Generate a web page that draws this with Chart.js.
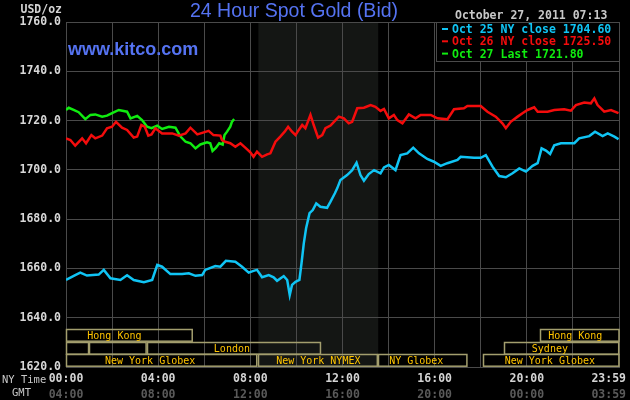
<!DOCTYPE html>
<html lang="en">
<head>
<meta charset="UTF-8" />
<title>24 Hour Spot Gold (Bid)</title>
<script src="https://cdn.jsdelivr.net/npm/chart.js@4/dist/chart.umd.min.js"></script>
<style>
  html, body { margin: 0; padding: 0; background: #000; }
</style>
</head>
<body>
<canvas id="myChart" width="630" height="400"></canvas>
<script>
// hours since 00:00 NY time, price in USD/oz
const hours25 = [0, 0.40, 0.62, 0.91, 1.42, 1.64, 1.93, 2.36, 2.65, 2.94, 3.38, 3.74, 3.96, 4.17, 4.53, 5.04, 5.33, 5.62, 5.91,
  6.04, 6.48, 6.70, 6.94, 7.35, 7.64, 7.93, 8.14, 8.29, 8.51, 8.80, 9.01, 9.16, 9.45, 9.60, 9.71, 9.81, 9.96, 10.13, 10.22,
  10.32, 10.42, 10.57, 10.71, 10.86, 11.04, 11.33, 11.48, 11.67, 11.77, 11.91, 12.20, 12.42, 12.61, 12.78, 12.93, 13.14,
  13.37, 13.65, 13.80, 14.01, 14.30, 14.52, 14.81, 15.07, 15.32, 15.68, 15.97, 16.26, 16.55, 16.99, 17.13, 17.71, 18.00,
  18.22, 18.51, 18.80, 19.09, 19.38, 19.67, 19.96, 20.25, 20.47, 20.64, 20.83, 21.01, 21.19, 21.48, 22.06, 22.27, 22.71,
  22.96, 23.29, 23.51, 23.80, 23.98];
const gold25 = [1655.3, 1657.3, 1658.3, 1657.1, 1657.5, 1659.4, 1656.0, 1655.3, 1657.2, 1655.3, 1654.4, 1655.3, 1661.4, 1660.7,
  1657.7, 1657.7, 1658.0, 1657.0, 1657.3, 1659.4, 1661.0, 1660.7, 1663.1, 1662.7, 1660.7, 1658.3, 1659.0, 1659.4, 1656.4,
  1657.3, 1656.4, 1655.0, 1656.9, 1655.3, 1649.2, 1653.3, 1654.6, 1655.3, 1662.0, 1670.2, 1676.3, 1682.4, 1683.7, 1686.4,
  1685.0, 1684.6, 1687.1, 1690.5, 1692.5, 1695.9, 1697.9, 1699.9, 1702.9, 1697.9, 1695.6, 1698.3, 1699.9, 1698.6, 1701.0,
  1702.0, 1699.9, 1706.0, 1706.7, 1709.0, 1706.7, 1704.4, 1703.3, 1701.6, 1702.7, 1704.0, 1705.3, 1704.9, 1704.9, 1706.0,
  1701.3, 1697.5, 1697.0, 1698.6, 1700.6, 1699.3, 1701.6, 1702.7, 1708.7, 1707.8, 1706.4, 1710.0, 1710.8, 1710.8, 1712.8,
  1713.7, 1715.5, 1713.7, 1714.8, 1713.5, 1712.4];

const hours26 = [0, 0.19, 0.40, 0.70, 0.87, 1.10, 1.27, 1.57, 1.78, 2.00, 2.17, 2.43, 2.65, 2.94, 3.09, 3.27, 3.42, 3.57, 3.71,
  3.88, 4.17, 4.61, 4.90, 5.19, 5.40, 5.70, 6.19, 6.40, 6.70, 6.77, 6.91, 7.13, 7.35, 7.57, 7.78, 8.00, 8.14, 8.29, 8.51,
  8.73, 8.87, 9.09, 9.30, 9.49, 9.64, 9.81, 9.96, 10.10, 10.25, 10.39, 10.61, 10.75, 10.94, 11.12, 11.26, 11.48, 11.70,
  11.84, 12.06, 12.27, 12.42, 12.64, 12.93, 13.22, 13.43, 13.65, 13.80, 14.01, 14.23, 14.38, 14.60, 14.88, 15.17, 15.39,
  15.83, 16.12, 16.55, 16.84, 17.27, 17.42, 18.00, 18.29, 18.65, 18.94, 19.09, 19.30, 19.60, 19.81, 20.03, 20.32, 20.47,
  20.90, 21.19, 21.62, 21.91, 22.13, 22.49, 22.78, 22.93, 23.07, 23.36, 23.65, 23.98];
const gold26 = [1712.8, 1712.1, 1709.8, 1712.8, 1710.8, 1714.1, 1712.8, 1713.9, 1716.9, 1717.5, 1719.5, 1717.1, 1716.2, 1713.1,
  1713.5, 1718.2, 1717.5, 1713.9, 1714.4, 1716.9, 1714.8, 1714.8, 1713.9, 1714.8, 1717.1, 1714.4, 1715.8, 1714.1, 1713.9,
  1712.1, 1711.4, 1710.8, 1709.4, 1710.8, 1709.0, 1707.1, 1705.3, 1707.4, 1705.3, 1706.3, 1706.7, 1711.4, 1713.5, 1715.5,
  1717.5, 1715.5, 1714.1, 1716.2, 1718.2, 1716.9, 1722.3, 1718.2, 1713.1, 1714.1, 1716.9, 1718.0, 1720.2, 1721.6, 1720.9,
  1718.9, 1719.5, 1725.0, 1725.2, 1726.3, 1725.6, 1723.9, 1724.7, 1720.9, 1722.3, 1720.2, 1718.9, 1722.5, 1720.9, 1722.3,
  1722.3, 1720.9, 1720.5, 1724.6, 1725.0, 1725.9, 1725.9, 1723.6, 1721.6, 1718.9, 1716.9, 1719.5, 1721.6, 1723.0, 1724.3,
  1725.4, 1723.6, 1723.6, 1724.3, 1724.6, 1724.0, 1726.3, 1727.3, 1727.0, 1729.0, 1726.3, 1723.6, 1724.3, 1723.0];

const hours27 = [0, 0.12, 0.33, 0.55, 0.84, 1.06, 1.27, 1.57, 1.78, 2.00, 2.29, 2.65, 2.80, 3.09, 3.30, 3.52, 3.71, 3.96, 4.17,
  4.47, 4.75, 4.97, 5.19, 5.40, 5.62, 5.83, 6.12, 6.26, 6.36, 6.51, 6.65, 6.80, 6.88, 6.99, 7.13, 7.20, 7.30];
const gold27 = [1724.3, 1725.2, 1724.3, 1723.4, 1720.6, 1722.3, 1722.5, 1721.6, 1722.0, 1723.0, 1724.3, 1723.6, 1720.9, 1721.9,
  1720.2, 1717.5, 1716.9, 1717.9, 1716.6, 1717.5, 1717.1, 1713.5, 1711.4, 1710.8, 1708.7, 1710.3, 1711.2, 1710.8, 1707.7,
  1709.0, 1710.8, 1710.3, 1714.1, 1715.5, 1717.5, 1719.5, 1720.6];

const seriesNames = ["Oct 25 NY close", "Oct 26 NY close", "Oct 27 Last"];
const seriesPrices = [1704.60, 1725.50, 1721.80];
const seriesColors = ["#10c4f4", "#f40c0c", "#10ec10"];

const tickHours = [0, 4, 8, 12, 16, 20, 24];
const nyLabels = ["00:00", "04:00", "08:00", "12:00", "16:00", "20:00", "23:59"];
const gmtLabels = ["04:00", "08:00", "12:00", "16:00", "20:00", "00:00", "03:59"];

// trading sessions (row 0 = top), hours NY time; mid = where the name sits
const markets = [
  { name: "Hong Kong", row: 0, from: 0, to: 5.5, mid: 2.1 },
  { name: "Hong Kong", row: 0, from: 20.55, to: 24, mid: 22.1 },
  { name: "", row: 1, from: 0, to: 1.0 },
  { name: "", row: 1, from: 1.0, to: 3.5 },
  { name: "London", row: 1, from: 3.5, to: 11.05, mid: 7.2 },
  { name: "Sydney", row: 1, from: 19.0, to: 24, mid: 21.0 },
  { name: "New York Globex", row: 2, from: 0, to: 8.3, mid: 3.65 },
  { name: "New York NYMEX", row: 2, from: 8.35, to: 13.55, mid: 10.95 },
  { name: "NY Globex", row: 2, from: 13.55, to: 17.43, mid: 15.2 },
  { name: "New York Globex", row: 2, from: 18.08, to: 24, mid: 21.0 }
];
const nymexBand = [8.35, 13.55];

const mono = '"DejaVu Sans Mono", monospace';

function pts(hs, vs) {
  return hs.map((h, i) => ({ x: h, y: vs[i] }));
}

const kitco = {
  id: "kitco",
  beforeDraw(chart) {
    const { ctx, chartArea: a } = chart;
    const x = chart.scales.x;
    ctx.save();
    ctx.fillStyle = "#000";
    ctx.fillRect(0, 0, chart.width, chart.height);
    const x0 = x.getPixelForValue(nymexBand[0]);
    const x1 = x.getPixelForValue(nymexBand[1]);
    ctx.fillStyle = "#141614";
    ctx.fillRect(x0, a.top, x1 - x0, a.bottom - a.top);
    ctx.restore();
  },
  beforeDatasetsDraw(chart) {
    const { ctx, chartArea: a } = chart;
    const x = chart.scales.x;
    const rowH = 12.7;
    ctx.save();
    ctx.lineWidth = 1.5;
    ctx.strokeStyle = "#a39e6e";
    ctx.font = "10px " + mono;
    ctx.fillStyle = "#ffc400";
    ctx.textAlign = "center";
    ctx.textBaseline = "middle";
    markets.forEach(m => {
      const top = a.bottom - (3 - m.row) * rowH;
      const l = x.getPixelForValue(Math.max(m.from, 0));
      const r = x.getPixelForValue(Math.min(m.to, 24));
      ctx.strokeRect(Math.round(l) + 0.5, Math.round(top) + 0.5, r - l - 1, rowH - 1);
      if (m.name) ctx.fillText(m.name, x.getPixelForValue(m.mid), top + rowH / 2 + 1);
    });
    ctx.restore();
  },
  afterDraw(chart) {
    const { ctx, chartArea: a } = chart;
    const x = chart.scales.x;
    ctx.save();

    // legend box
    const lx = a.right - 183, ly = a.top, lh = 39;
    ctx.fillStyle = "#000";
    ctx.fillRect(lx, ly, a.right - lx, lh);
    ctx.strokeStyle = "#4a4a4a";
    ctx.lineWidth = 1;
    ctx.strokeRect(Math.round(lx) + 0.5, ly + 0.5, a.right - lx, lh);
    ctx.font = "bold 11.5px " + mono;
    ctx.textAlign = "left";
    ctx.textBaseline = "alphabetic";
    seriesNames.forEach((n, i) => {
      const by = ly + 11 + i * 12.3;
      ctx.fillStyle = seriesColors[i];
      ctx.fillRect(lx + 6, by - 5, 6, 2);
      ctx.fillText(n + " " + seriesPrices[i].toFixed(2), lx + 16, by);
    });

    // titles
    ctx.fillStyle = "#5573f2";
    ctx.textAlign = "center";
    ctx.font = '19.5px "Liberation Sans", Arial, sans-serif';
    ctx.fillText("24 Hour Spot Gold (Bid)", 294, 17);
    ctx.textAlign = "left";
    ctx.font = 'bold 18px "Liberation Sans", Arial, sans-serif';
    ctx.fillText("www.kitco.com", 68, 55);

    ctx.fillStyle = "#c8c8c8";
    ctx.font = "bold 11.5px " + mono;
    ctx.fillText("October 27, 2011 07:13", 455, 19);
    ctx.textAlign = "right";
    ctx.fillStyle = "#d4d4d4";
    ctx.fillText("USD/oz", 62, 12.5);

    // time rows
    ctx.font = "10.5px " + mono;
    ctx.fillStyle = "#c8c8c8";
    ctx.textAlign = "left";
    ctx.fillText("NY Time", 2, 383);
    ctx.fillText("GMT", 12, 396);

    ctx.font = "bold 11.5px " + mono;
    ctx.textAlign = "center";
    tickHours.forEach((h, i) => {
      let px = x.getPixelForValue(h);
      const w = ctx.measureText(nyLabels[i]).width;
      px = Math.min(px, chart.width - w / 2 - 4);
      ctx.fillStyle = "#d4d4d4";
      ctx.fillText(nyLabels[i], px, 382);
      ctx.fillStyle = "#5a5a5a";
      ctx.fillText(gmtLabels[i], px, 398);
    });
    ctx.restore();
  }
};

const ctx = document.getElementById("myChart");
new Chart(ctx, {
  type: "line",
  data: {
    datasets: [
      { label: seriesNames[0], data: pts(hours25, gold25), borderColor: seriesColors[0] },
      { label: seriesNames[1], data: pts(hours26, gold26), borderColor: seriesColors[1] },
      { label: seriesNames[2], data: pts(hours27, gold27), borderColor: seriesColors[2] }
    ]
  },
  options: {
    responsive: false,
    animation: false,
    layout: { padding: { top: 22, right: 11, bottom: 33, left: 0 } },
    elements: {
      line: { borderWidth: 2.5, tension: 0 },
      point: { radius: 0 }
    },
    plugins: {
      legend: { display: false },
      tooltip: { enabled: false }
    },
    scales: {
      x: {
        type: "linear",
        min: 0,
        max: 24,
        ticks: { display: false, stepSize: 2 },
        grid: { color: "#4a4a4a", drawTicks: false },
        border: { color: "#4a4a4a" },
        afterFit(scale) { scale.height = 0; }
      },
      y: {
        min: 1620,
        max: 1760,
        ticks: {
          stepSize: 20,
          color: "#d8d8d8",
          padding: 5,
          font: { family: "DejaVu Sans Mono", size: 11.5, weight: "bold" },
          callback: v => v.toFixed(1)
        },
        grid: { color: "#4a4a4a", drawTicks: false },
        border: { color: "#4a4a4a" },
        afterFit(scale) { scale.width = 66; }
      }
    }
  },
  plugins: [kitco]
});
</script>
</body>
</html>
